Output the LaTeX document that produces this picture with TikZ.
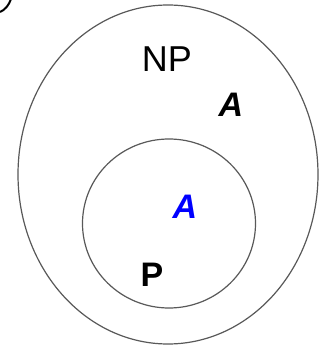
\documentclass[tikz,border=0pt]{standalone}
\usepackage{fontspec}
\setmainfont{Liberation Sans}
\begin{document}
\begin{tikzpicture}[x=1pt,y=1pt,
  setline/.style={draw=black!65,line width=1.2pt},
  lbl/.style={inner sep=0pt,font=\fontsize{36}{36}\selectfont},
  lblb/.style={inner sep=0pt,font=\fontsize{34}{34}\selectfont\bfseries}]
\useasboundingbox (0,0) rectangle (322,346);
\fill[white] (0,0) rectangle (322,346);
\draw[setline] (168,171.5) ellipse [x radius=150, y radius=169.5];
\draw[setline] (169,122.5) ellipse [x radius=86.5, y radius=84.5];
\draw[line width=2pt,black] (0,334) .. controls (5,336) and (9,341) .. (11,347);
\node[lbl] (np) at (167,287) {NP};
\node[lblb] (a1) at (231,241) {\itshape A};
\node[lblb,text=blue] (a2) at (185,139) {\itshape A};
\node[lblb] (p) at (152,71) {P};
\end{tikzpicture}
\end{document}
